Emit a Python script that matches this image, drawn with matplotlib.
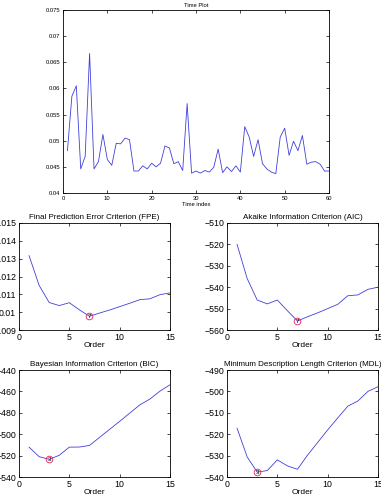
import matplotlib
matplotlib.use("Agg")
import matplotlib.pyplot as plt
from matplotlib.ticker import FuncFormatter, MultipleLocator

plt.rcParams['font.family'] = ['Liberation Sans', 'DejaVu Sans']

# ---- data ----
time_index = list(range(1, 61))
time_values = [0.0481, 0.0585, 0.0605, 0.0446, 0.0470, 0.0667, 0.0446, 0.0460, 0.0512, 0.0464,
               0.0453, 0.0495, 0.0494, 0.0505, 0.0502, 0.0442, 0.0442, 0.0452, 0.0446, 0.0457,
               0.0450, 0.0457, 0.0490, 0.0486, 0.0456, 0.0460, 0.0443, 0.0571, 0.0438, 0.0442,
               0.0438, 0.0443, 0.0440, 0.0449, 0.0484, 0.0439, 0.0450, 0.0441, 0.0452, 0.0440,
               0.0527, 0.0507, 0.0470, 0.0502, 0.0456, 0.0446, 0.0440, 0.0437, 0.0507, 0.0524,
               0.0472, 0.0499, 0.0481, 0.0510, 0.0455, 0.0459, 0.0460, 0.0455, 0.0442, 0.0442]

orders = list(range(1, 16))
fpe = [0.01317, 0.0115, 0.01054, 0.01037, 0.01053, 0.01013, 0.00977, 0.00995, 0.01012, 0.01031,
       0.0105, 0.0107, 0.01075, 0.01098, 0.01108]
aic = [-520.0, -535.9, -546.0, -547.8, -546.0, -551.0, -555.8, -553.8, -552.0, -550.0,
       -548.0, -544.0, -543.6, -541.0, -540.0]
bic = [-512.1, -521.0, -523.5, -519.7, -512.1, -512.0, -510.5, -503.0, -495.5, -488.0,
       -480.3, -472.6, -467.2, -459.8, -453.8]
mdl = [-517.2, -530.6, -537.7, -537.0, -532.0, -534.8, -536.4, -529.8, -523.9, -518.0,
       -512.4, -506.9, -504.5, -500.0, -497.8]

fpe_best = 7
aic_best = 7
bic_best = 3
mdl_best = 3

titles = ['Final Prediction Error Criterion (FPE)', 'Akaike Information Criterion (AIC)',
          'Bayesian Information Criterion (BIC)', 'Minimum Description Length Criterion (MDL)']

fig = plt.figure(figsize=(3.81, 5.01), dpi=100)
W, H = 381.0, 501.0

def rect(l, t, r, b):
    return [l / W, 1 - b / H, (r - l) / W, (b - t) / H]

gfmt = FuncFormatter(lambda v, p: ('%g' % v).replace('-', '\u2212'))
line_color = '#4040d8'

# ---- top time plot ----
ax = fig.add_axes(rect(63, 10, 329, 193))
ax.plot(time_index, time_values, color=line_color, lw=0.6)
ax.set_xlim(0, 60)
ax.set_ylim(0.04, 0.075)
ax.xaxis.set_major_locator(MultipleLocator(10))
ax.yaxis.set_major_locator(MultipleLocator(0.005))
ax.yaxis.set_major_formatter(gfmt)
ax.tick_params(direction='in', top=True, right=True, labelsize=4.2, length=2.5, width=0.5, pad=2)
ax.set_title('Time Plot', fontsize=4.2, pad=2)
ax.set_xlabel('Time index', fontsize=4.2, labelpad=1)
for s in ax.spines.values():
    s.set_linewidth(0.6)

# ---- criteria plots ----
panels = [
    (rect(19, 223, 170, 330), fpe, fpe_best, (0.009, 0.015), 0.001),
    (rect(227, 223, 378, 330), aic, aic_best, (-560, -510), 10),
    (rect(19, 370, 170, 477), bic, bic_best, (-540, -440), 20),
    (rect(227, 370, 378, 477), mdl, mdl_best, (-540, -490), 10),
]
for (r, vals, best, ylim, step), title in zip(panels, titles):
    a = fig.add_axes(r)
    a.plot(orders, vals, color=line_color, lw=0.6)
    bv = vals[orders.index(best)]
    a.plot([best], [bv], 'o', mfc='none', mec='#e0205a', mew=0.6, ms=4.8)
    a.text(best, bv, str(best), fontsize=4.5, ha='center', va='center', color='black')
    a.set_xlim(0, 15)
    a.set_ylim(*ylim)
    a.xaxis.set_major_locator(MultipleLocator(5))
    a.yaxis.set_major_locator(MultipleLocator(step))
    a.yaxis.set_major_formatter(gfmt)
    a.tick_params(direction='in', top=True, right=True, labelsize=6.3, length=2.5, width=0.5, pad=2)
    a.set_title(title, fontsize=5.8, pad=3)
    a.set_xlabel('Order', fontsize=6, labelpad=0)
    for s in a.spines.values():
        s.set_linewidth(0.6)

fig.savefig('out.png', dpi=100)
